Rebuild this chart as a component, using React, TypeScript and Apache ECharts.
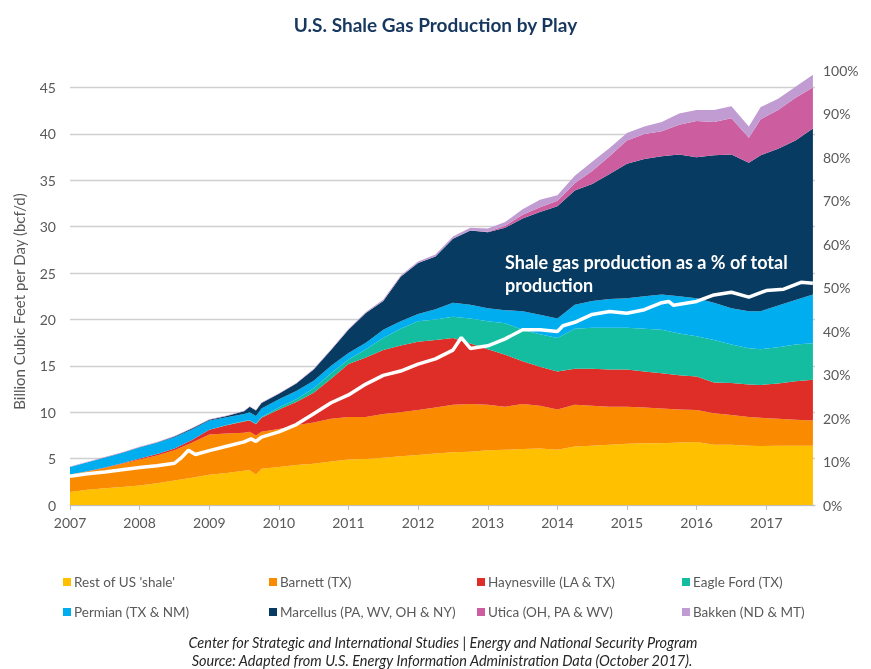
import React, { useEffect, useRef } from "react";
import * as echarts from "echarts";

// Decimal-year sample points
const years = [
  2007.0, 2007.25, 2007.5, 2007.75, 2008.0, 2008.25, 2008.5, 2008.75, 2009.0, 2009.25,
  2009.5, 2009.58, 2009.67, 2009.75, 2010.0, 2010.25, 2010.5, 2010.75, 2011.0, 2011.25,
  2011.5, 2011.75, 2012.0, 2012.25, 2012.5, 2012.75, 2013.0, 2013.25, 2013.5, 2013.75,
  2014.0, 2014.25, 2014.5, 2014.75, 2015.0, 2015.25, 2015.5, 2015.75, 2016.0, 2016.25,
  2016.5, 2016.75, 2016.92, 2017.17, 2017.42, 2017.67,
];

const restOfUS = [
  1.4, 1.65, 1.8, 1.95, 2.1, 2.35, 2.65, 2.95, 3.25, 3.45,
  3.7, 3.75, 3.3, 3.9, 4.1, 4.3, 4.45, 4.7, 4.9, 4.95,
  5.1, 5.25, 5.4, 5.55, 5.7, 5.75, 5.9, 5.95, 6.05, 6.1,
  5.95, 6.3, 6.4, 6.5, 6.6, 6.65, 6.65, 6.75, 6.8, 6.5,
  6.5, 6.4, 6.35, 6.4, 6.4, 6.4,
];
const barnett = [
  1.9, 1.95, 2.2, 2.5, 2.8, 3.0, 3.25, 3.75, 4.35, 4.25,
  4.1, 4.15, 4.2, 4.0, 4.1, 4.3, 4.45, 4.6, 4.6, 4.55,
  4.7, 4.75, 4.85, 4.95, 5.1, 5.15, 4.9, 4.65, 4.85, 4.6,
  4.35, 4.5, 4.3, 4.1, 4.0, 3.85, 3.75, 3.55, 3.45, 3.4,
  3.2, 3.1, 3.05, 2.9, 2.8, 2.7,
];
const haynesville = [
  0, 0.05, 0.05, 0.05, 0.1, 0.15, 0.2, 0.3, 0.5, 0.9,
  1.2, 1.2, 1.2, 1.5, 2.1, 2.5, 3.2, 4.3, 5.7, 6.4,
  6.9, 7.2, 7.35, 7.3, 7.2, 6.5, 6.0, 5.6, 4.6, 4.2,
  4.1, 3.9, 4.0, 4.0, 4.0, 3.9, 3.8, 3.7, 3.6, 3.3,
  3.45, 3.5, 3.55, 3.8, 4.15, 4.4,
];
const eagleFord = [
  0, 0, 0, 0, 0, 0, 0, 0, 0, 0.02,
  0.05, 0.05, 0.05, 0.1, 0.2, 0.3, 0.5, 0.6, 0.5, 0.9,
  1.3, 1.8, 2.2, 2.2, 2.3, 2.7, 3.0, 3.4, 3.4, 3.5,
  3.6, 4.3, 4.4, 4.5, 4.5, 4.6, 4.7, 4.5, 4.35, 4.6,
  4.15, 3.9, 3.85, 3.9, 3.95, 3.95,
];
const permian = [
  0.8, 0.95, 1.05, 1.1, 1.2, 1.2, 1.2, 1.15, 1.0, 0.83,
  0.75, 0.85, 0.85, 0.9, 0.9, 0.9, 0.8, 0.8, 0.7, 0.7,
  0.9, 0.8, 0.8, 1.1, 1.5, 1.5, 1.4, 1.4, 2.0, 2.1,
  2.1, 2.6, 2.9, 3.1, 3.2, 3.5, 3.8, 4.0, 4.1, 4.0,
  3.9, 4.0, 4.1, 4.5, 4.8, 5.25,
];
const marcellus = [
  0, 0.02, 0.02, 0.03, 0.03, 0.05, 0.08, 0.1, 0.1, 0.15,
  0.3, 0.6, 0.6, 0.6, 0.6, 0.8, 1.2, 1.7, 2.5, 3.2,
  3.1, 4.8, 5.5, 5.7, 6.9, 8.0, 8.2, 8.9, 10.0, 11.1,
  12.1, 12.3, 12.6, 13.5, 14.5, 14.8, 14.9, 15.3, 15.2, 15.9,
  16.6, 16.0, 16.8, 16.9, 17.2, 17.9,
];
const utica = [
  0, 0, 0, 0, 0, 0, 0, 0, 0, 0,
  0, 0, 0, 0, 0, 0, 0, 0, 0, 0,
  0, 0, 0, 0, 0, 0, 0.05, 0.2, 0.4, 0.5,
  0.6, 0.8, 1.4, 1.9, 2.5, 2.7, 2.7, 3.2, 3.9, 3.6,
  3.9, 2.7, 3.9, 4.2, 4.6, 4.4,
];
const bakken = [
  0.05, 0.05, 0.05, 0.05, 0.05, 0.05, 0.05, 0.05, 0.05, 0.05,
  0.05, 0.05, 0.05, 0.05, 0.05, 0.05, 0.1, 0.1, 0.1, 0.1,
  0.15, 0.15, 0.15, 0.2, 0.25, 0.3, 0.35, 0.4, 0.6, 0.8,
  0.6, 0.8, 1.0, 0.9, 0.8, 0.8, 1.0, 1.2, 1.2, 1.3,
  1.3, 1.2, 1.3, 1.2, 1.2, 1.4,
];

// Shale share of total production (%), right axis
const shareYears = [
  2007.0, 2007.25, 2007.5, 2007.75, 2008.0, 2008.25, 2008.5, 2008.6, 2008.7, 2008.8,
  2009.0, 2009.25, 2009.5, 2009.6, 2009.67, 2009.75, 2010.0, 2010.25, 2010.5, 2010.75,
  2011.0, 2011.25, 2011.5, 2011.75, 2012.0, 2012.25, 2012.5, 2012.62, 2012.75, 2013.0,
  2013.25, 2013.5, 2013.75, 2014.0, 2014.08, 2014.25, 2014.5, 2014.75, 2015.0, 2015.25,
  2015.5, 2015.6, 2015.67, 2016.0, 2016.25, 2016.5, 2016.75, 2017.0, 2017.25, 2017.5,
  2017.67,
];
const sharePct = [
  6.6, 7.2, 7.6, 8.1, 8.6, 9.0, 9.6, 10.9, 12.6, 11.6,
  12.5, 13.5, 14.5, 15.2, 14.6, 15.6, 16.8, 18.5, 21.0, 23.5,
  25.3, 27.8, 29.8, 30.8, 32.4, 33.6, 35.6, 38.5, 36.0, 36.6,
  38.2, 40.3, 40.3, 39.9, 41.2, 42.0, 43.8, 44.5, 44.1, 44.9,
  46.5, 46.8, 45.9, 46.8, 48.3, 48.9, 47.8, 49.3, 49.6, 51.2,
  51.0,
];

const seriesNames = [
  "Rest of US 'shale'",
  "Barnett (TX)",
  "Haynesville (LA & TX)",
  "Eagle Ford (TX)",
  "Permian (TX & NM)",
  "Marcellus (PA, WV, OH & NY)",
  "Utica (OH, PA & WV)",
  "Bakken (ND & MT)",
];
const seriesValues = [restOfUS, barnett, haynesville, eagleFord, permian, marcellus, utica, bakken];
const seriesColors = ["#FFC000", "#FA8A00", "#DF2E28", "#14BDA0", "#00AEEF", "#073B61", "#CC5EA0", "#C09CD3"];

const leftTicks = { min: 0, max: 46.9, interval: 5 };
const rightTicks = { min: 0, max: 100, interval: 10 };

const toTs = (y: number) => {
  const yr = Math.floor(y + 1e-9);
  const a = new Date(yr, 0, 1).getTime();
  const b = new Date(yr + 1, 0, 1).getTime();
  return a + (y - yr) * (b - a);
};

const FONT = "Lato, 'Open Sans', sans-serif";

export default function App() {
  const ref = useRef<HTMLDivElement>(null);

  useEffect(() => {
    if (!ref.current) return;
    const chart = echarts.init(ref.current, undefined, { renderer: "svg" });

    const areaSeries = seriesNames.map((name, i) => ({
      name,
      type: "line",
      stack: "shale",
      xAxisIndex: 0,
      yAxisIndex: 0,
      showSymbol: false,
      symbol: "none",
      lineStyle: { width: 0, color: seriesColors[i] },
      itemStyle: { color: seriesColors[i] },
      areaStyle: { color: seriesColors[i], opacity: 1 },
      data: years.map((y, k) => [toTs(y), seriesValues[i][k]]),
      z: 2,
    }));

    const legendX = [58, 264, 472, 677];
    const legendY = [570, 600];

    chart.setOption({
      animation: false,
      textStyle: { fontFamily: FONT },
      title: {
        text: "U.S. Shale Gas Production by Play",
        left: "center",
        top: 10,
        textStyle: { fontFamily: FONT, fontSize: 19, fontWeight: "bold", color: "#17375E" },
      },
      grid: { left: 70, right: 56, top: 70, bottom: 164, containLabel: false },
      legend: seriesNames.map((n, i) => ({
        data: [n],
        left: legendX[i % 4],
        top: legendY[Math.floor(i / 4)],
        icon: "rect",
        itemWidth: 8,
        itemHeight: 8,
        itemGap: 0,
        selectedMode: false,
        textStyle: { fontFamily: FONT, fontSize: 13.5, color: "#595959", padding: [0, 0, 0, -2] },
      })),
      xAxis: {
        type: "time",
        min: toTs(2007),
        max: toTs(2017.7),
        minInterval: 365 * 24 * 3600 * 1000,
        maxInterval: 366 * 24 * 3600 * 1000,
        axisLine: { show: true, lineStyle: { color: "#BFBFBF", width: 1 } },
        axisTick: { show: true, length: 5, lineStyle: { color: "#BFBFBF" } },
        splitLine: { show: false },
        axisLabel: {
          fontFamily: FONT,
          fontSize: 14,
          color: "#595959",
          margin: 10,
          formatter: (v: number) => String(new Date(v).getFullYear()),
        },
      },
      yAxis: [
        {
          type: "value",
          min: leftTicks.min,
          max: leftTicks.max,
          interval: leftTicks.interval,
          name: "Billion Cubic Feet per Day (bcf/d)",
          nameLocation: "middle",
          nameGap: 44,
          nameTextStyle: { fontFamily: FONT, fontSize: 15, color: "#595959", padding: [0, 0, 0, -28] },
          axisLine: { show: false },
          axisTick: { show: false },
          splitLine: { show: true, showMaxLine: false, lineStyle: { color: "#D0D0D0", width: 1.3 } },
          axisLabel: { fontFamily: FONT, fontSize: 14, color: "#595959", margin: 14, showMaxLabel: false },
        },
        {
          type: "value",
          min: rightTicks.min,
          max: rightTicks.max,
          interval: rightTicks.interval,
          position: "right",
          axisLine: { show: false },
          axisTick: { show: false },
          splitLine: { show: false },
          axisLabel: { fontFamily: FONT, fontSize: 14, color: "#595959", margin: 8, formatter: "{value}%" },
        },
      ],
      series: [
        ...areaSeries,
        {
          name: "Shale share",
          type: "line",
          xAxisIndex: 0,
          yAxisIndex: 1,
          showSymbol: false,
          symbol: "none",
          lineStyle: { color: "#FFFFFF", width: 3.5 },
          data: shareYears.map((y, k) => [toTs(y), sharePct[k]]),
          z: 5,
        },
      ],
      graphic: [
        {
          type: "text",
          x: 505,
          y: 250,
          z: 10,
          style: {
            text: "Shale gas production as a % of total\nproduction",
            fill: "#FFFFFF",
            font: `bold 18px ${FONT}`,
            lineHeight: 23,
          },
        },
        {
          type: "text",
          x: 443,
          y: 642,
          style: {
            text: "Center for Strategic and International Studies | Energy and National Security Program",
            fill: "#262626",
            font: `italic 14.5px ${FONT}`,
            textAlign: "center",
            textVerticalAlign: "middle",
          },
        },
        {
          type: "text",
          x: 442,
          y: 660,
          style: {
            text: "Source: Adapted from U.S. Energy Information Administration Data (October 2017).",
            fill: "#262626",
            font: `italic 14.5px ${FONT}`,
            textAlign: "center",
            textVerticalAlign: "middle",
          },
        },
      ],
    });

    return () => chart.dispose();
  }, []);

  return (
    <div
      ref={ref}
      style={{ position: "fixed", left: 0, top: 0, width: 871, height: 669 }}
    />
  );
}
